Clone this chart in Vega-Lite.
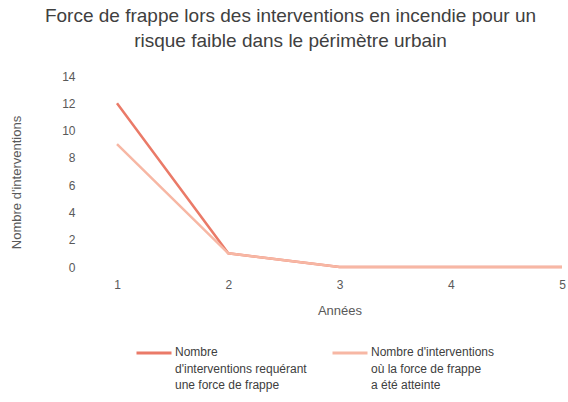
{
  "$schema": "https://vega.github.io/schema/vega-lite/v6.json",
  "width": 445,
  "height": 191,
  "autosize": {"type": "none"},
  "padding": {"left": 117, "top": 76, "right": 6, "bottom": 135},
  "background": "white",
  "config": {"view": {"stroke": null}, "font": "Liberation Sans"},
  "title": {
    "text": ["Force de frappe lors des interventions en incendie pour un", "risque faible dans le périmètre urbain"],
    "fontSize": 19,
    "fontWeight": "normal",
    "color": "#404040",
    "anchor": "middle",
    "dx": -49,
    "offset": 19,
    "lineHeight": 25
  },
  "data": {
    "values": [
      {"annee": 1, "valeur": 12, "serie": "A"},
      {"annee": 2, "valeur": 1, "serie": "A"},
      {"annee": 3, "valeur": 0, "serie": "A"},
      {"annee": 4, "valeur": 0, "serie": "A"},
      {"annee": 5, "valeur": 0, "serie": "A"},
      {"annee": 1, "valeur": 9, "serie": "B"},
      {"annee": 2, "valeur": 1, "serie": "B"},
      {"annee": 3, "valeur": 0, "serie": "B"},
      {"annee": 4, "valeur": 0, "serie": "B"},
      {"annee": 5, "valeur": 0, "serie": "B"}
    ]
  },
  "mark": {"type": "line", "strokeWidth": 2.5},
  "encoding": {
    "x": {
      "field": "annee",
      "type": "quantitative",
      "scale": {"domain": [1, 5], "nice": false},
      "axis": {
        "values": [1, 2, 3, 4, 5],
        "title": "Années",
        "grid": false,
        "domain": false,
        "ticks": false,
        "labelFlush": false,
        "labelPadding": 12,
        "labelFontSize": 12,
        "labelColor": "#595959",
        "titleFontSize": 13,
        "titleFontWeight": "normal",
        "titleColor": "#595959",
        "titlePadding": 14
      }
    },
    "y": {
      "field": "valeur",
      "type": "quantitative",
      "scale": {"domain": [0, 14], "nice": false},
      "axis": {
        "values": [0, 2, 4, 6, 8, 10, 12, 14],
        "title": "Nombre d'interventions",
        "grid": false,
        "domain": false,
        "ticks": false,
        "labelFlush": false,
        "labelPadding": 42,
        "labelFontSize": 12,
        "labelColor": "#595959",
        "titleFontSize": 13,
        "titleFontWeight": "normal",
        "titleColor": "#595959",
        "titleX": -94,
        "titleY": 106
      }
    },
    "color": {
      "field": "serie",
      "type": "nominal",
      "scale": {"domain": ["A", "B"], "range": ["#ea7a68", "#f7b7a4"]},
      "legend": {
        "orient": "none",
        "direction": "horizontal",
        "legendX": 18,
        "legendY": 258,
        "title": null,
        "symbolType": "stroke",
        "symbolSize": 1225,
        "symbolStrokeWidth": 3,
        "labelOffset": 2,
        "columnPadding": 19,
        "labelFontSize": 12,
        "labelColor": "#404040",
        "labelLimit": 300,
        "labelBaseline": "top",
        "labelExpr": "datum.label == 'A' ? ['Nombre', \"d'interventions requérant\", 'une force de frappe'] : [\"Nombre d'interventions\", 'où la force de frappe', 'a été atteinte']",
        "encode": {"labels": {"update": {"dy": {"value": -6}, "lineHeight": {"value": 16.5}}}}
      }
    }
  }
}
